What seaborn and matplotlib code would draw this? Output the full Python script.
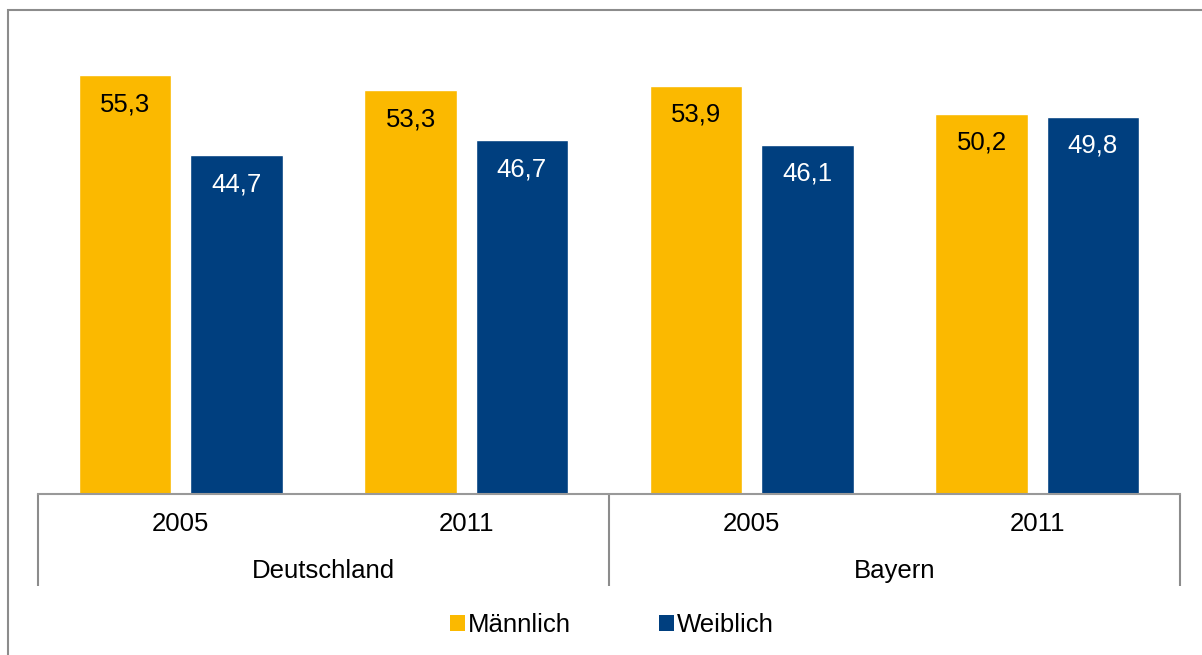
import matplotlib
matplotlib.use("Agg")
import matplotlib.pyplot as plt
import matplotlib.patches as mpatches
import seaborn as sns
import pandas as pd

# Data
regions = ["Deutschland", "Bayern"]
years = ["2005", "2011", "2005", "2011"]
categories = ["Deutschland 2005", "Deutschland 2011", "Bayern 2005", "Bayern 2011"]
maennlich = [55.3, 53.3, 53.9, 50.2]
weiblich = [44.7, 46.7, 46.1, 49.8]
series = ["Männlich", "Weiblich"]
colors = ["#FBB900", "#003F7F"]
label_colors = ["black", "white"]

sns.set_theme(style="white")
plt.rcParams["font.family"] = ["Liberation Sans", "DejaVu Sans"]
plt.rcParams["text.color"] = "black"

df = pd.DataFrame({
    "cat": categories * 2,
    "val": maennlich + weiblich,
    "sex": [series[0]] * 4 + [series[1]] * 4,
})

fig = plt.figure(figsize=(12.02, 6.55), dpi=100)
ax = fig.add_axes([0.0316, 0.2458, 0.9501, 0.694])

sns.barplot(data=df, x="cat", y="val", hue="sex", order=categories,
            hue_order=series, palette=colors, width=0.78, gap=0.17,
            saturation=1, ax=ax, legend=False)

ax.set_ylim(0, 60)
ax.set_xlim(-0.5, 3.5)
ax.set_yticks([])
ax.set_ylabel("")
ax.set_xlabel("")
for s in ["top", "left", "right"]:
    ax.spines[s].set_visible(False)
ax.spines["bottom"].set_color("#999999")
ax.spines["bottom"].set_linewidth(1.5)

FS = 18.5
# value labels
for cont, col in zip(ax.containers, label_colors):
    for p in cont:
        h = p.get_height()
        ax.annotate(f"{h:.1f}".replace(".", ","),
                    xy=(p.get_x() + p.get_width() / 2, h),
                    xytext=(0, -21), textcoords="offset points",
                    ha="center", va="center", fontsize=FS, color=col)

# x axis: years as labels, separators as minor ticks
ax.set_xticks(range(4))
ax.set_xticklabels([])
ax.tick_params(axis="x", which="major", length=0)
ax.set_xticks([-0.5, 1.5, 3.5], minor=True)
ax.tick_params(axis="x", which="minor", length=66, width=1.5,
               color="#8c8c8c", direction="out", bottom=True)

for i, y in enumerate(years):
    ax.annotate(y, xy=(i, 0), xycoords=("data", "axes fraction"),
                xytext=(0, -21.5), textcoords="offset points",
                ha="center", va="center", fontsize=FS, color="black")
for i, r in enumerate(regions):
    ax.annotate(r, xy=(2 * i + 0.5, 0), xycoords=("data", "axes fraction"),
                xytext=(0, -55.5), textcoords="offset points",
                ha="center", va="center", fontsize=FS, color="black")

handles = [mpatches.Patch(facecolor=c, edgecolor="none", label=s)
           for c, s in zip(colors, series)]
leg = fig.legend(handles=handles, loc="center", bbox_to_anchor=(0.509, 0.046),
                 ncol=2, frameon=False, fontsize=FS, handlelength=0.6,
                 handleheight=0.6, handletextpad=0.12, columnspacing=3.4)
for t in leg.get_texts():
    t.set_color("black")

# outer frame
fig.patches.append(mpatches.Rectangle((0.0067, -0.1), 1.2, 0.9847 + 0.1,
                                      transform=fig.transFigure, fill=False,
                                      edgecolor="#8c8c8c", linewidth=1.5))

fig.savefig("out.png", dpi=100)
